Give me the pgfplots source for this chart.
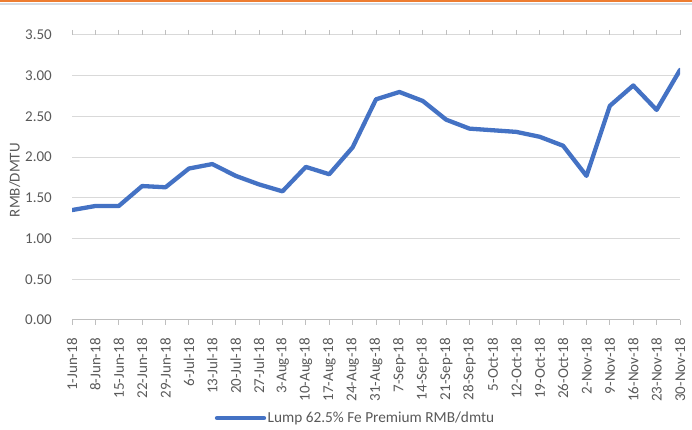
\documentclass[border=0pt]{standalone}
\usepackage{pgfplots}
\pgfplotsset{compat=1.18}
\usepackage{pgfplotstable}
\usepackage{fontspec}
\setmainfont{Carlito}
\definecolor{series}{HTML}{4472C4}
\definecolor{gridc}{HTML}{D9D9D9}
\definecolor{axc}{HTML}{BFBFBF}
\definecolor{txt}{HTML}{595959}
\definecolor{topbar}{HTML}{ED7D31}
\definecolor{topline}{HTML}{D5DCE4}
\pgfplotstableread{
idx val
0 1.35
1 1.40
2 1.40
3 1.645
4 1.63
5 1.86
6 1.915
7 1.77
8 1.665
9 1.58
10 1.88
11 1.79
12 2.12
13 2.71
14 2.80
15 2.69
16 2.46
17 2.35
18 2.33
19 2.31
20 2.25
21 2.14
22 1.77
23 2.63
24 2.88
25 2.58
26 3.07
}\premium
\begin{document}
\begin{tikzpicture}[x=1pt,y=1pt]
\useasboundingbox (0,0) rectangle (692,430);
\fill[topbar] (0,428.2) rectangle (692,430);
\fill[topline] (0,424.5) rectangle (692,426.5);
\begin{axis}[
  at={(72pt,110pt)}, anchor=south west,
  scale only axis, width=608pt, height=285pt,
  xmin=0, xmax=26, ymin=0, ymax=3.5,
  axis line style={draw=none},
  ymajorgrids, grid style={gridc, line width=1pt},
  ytick={0,0.5,1,1.5,2,2.5,3,3.5},
  yticklabel style={/pgf/number format/fixed, /pgf/number format/fixed zerofill, /pgf/number format/precision=2, anchor=east, inner sep=0pt, xshift=-15pt},
  /pgf/number format/assume math mode=true,
  ytick style={draw=none},
  xtick={0,...,26},
  xticklabels={1-Jun-18,8-Jun-18,15-Jun-18,22-Jun-18,29-Jun-18,6-Jul-18,13-Jul-18,20-Jul-18,27-Jul-18,3-Aug-18,10-Aug-18,17-Aug-18,24-Aug-18,31-Aug-18,7-Sep-18,14-Sep-18,21-Sep-18,28-Sep-18,5-Oct-18,12-Oct-18,19-Oct-18,26-Oct-18,2-Nov-18,9-Nov-18,16-Nov-18,23-Nov-18,30-Nov-18},
  x tick label style={rotate=90, anchor=east, inner sep=0pt, xshift=-13pt},
  xtick style={axc, line width=1pt},
  tick align=outside, major tick length=5pt,
  tick label style={font=\fontsize{15}{18}\selectfont, text=txt},
  ylabel={RMB/DMTU},
  y label style={at={(axis description cs:-0.0942,0.491)}, anchor=center, rotate=0, font=\fontsize{15}{18}\selectfont, text=txt},
  legend style={at={(axis description cs:0.466,-0.344)}, anchor=center, draw=none, fill=none, font=\fontsize{15.3}{18}\selectfont, text=txt, inner sep=0pt, nodes={inner sep=1.5pt}},
  legend image code/.code={\draw[#1, line width=4.3pt, line cap=round] (0pt,0pt) -- (47pt,0pt);},
]
\draw[axc, line width=1pt] (rel axis cs:0,0) -- (rel axis cs:1,0);
\addplot[series, line width=4.3pt, line join=round, line cap=round] table[x=idx, y=val] {\premium};
\addlegendentry{Lump 62.5\% Fe Premium RMB/dmtu}
\end{axis}
\end{tikzpicture}
\end{document}
